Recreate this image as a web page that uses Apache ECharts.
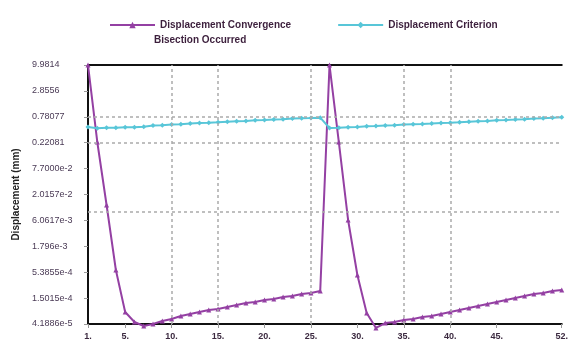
<!DOCTYPE html>
<html><head><meta charset="utf-8">
<script src="https://cdn.jsdelivr.net/npm/echarts@6/dist/echarts.min.js"></script>
<style>html,body{margin:0;padding:0;background:#fff}#c{width:571px;height:349px}</style>
</head><body><div id="c"></div>
<script>
const iterations = [1,2,3,4,5,6,7,8,9,10,11,12,13,14,15,16,17,18,19,20,21,22,23,24,25,26,27,28,29,30,31,32,33,34,35,36,37,38,39,40,41,42,43,44,45,46,47,48,49,50,51,52];
const convergence = [12.4,0.2936,0.01369,5.79e-4,7.50e-5,4.61e-5,3.80e-5,4.19e-5,4.84e-5,5.34e-5,
  6.18e-5,6.81e-5,7.50e-5,8.27e-5,8.69e-5,9.57e-5,1.055e-4,1.163e-4,1.221e-4,1.346e-4,
  1.413e-4,1.557e-4,1.635e-4,1.802e-4,1.892e-4,2.085e-4,
  12.4,0.2936,6.60e-3,4.54e-4,
  7.15e-5,3.45e-5,4.39e-5,4.61e-5,5.09e-5,5.34e-5,5.88e-5,6.18e-5,6.81e-5,7.50e-5,
  8.27e-5,9.12e-5,1.005e-4,1.108e-4,1.221e-4,1.346e-4,1.483e-4,1.635e-4,1.802e-4,1.892e-4,2.085e-4,2.189e-4];
const criterion = [0.610,0.573,0.589,0.589,0.601,0.601,0.619,0.652,0.665,0.685,0.698,0.719,0.741,0.752,0.767,0.790,0.806,0.817,0.843,0.857,0.873,0.890,0.916,0.934,0.945,0.959,
  0.581,0.589,0.601,0.610,0.633,0.640,0.652,0.665,0.685,0.698,0.706,0.719,0.741,0.752,0.767,0.790,0.806,0.817,0.843,0.857,0.873,0.890,0.916,0.934,0.959,0.973];
// y tick labels, bottom to top
const yTickLabels = ["4.1886e-5","1.5015e-4","5.3855e-4","1.796e-3","6.0617e-3","2.0157e-2","7.7000e-2","0.22081","0.78077","2.8556","9.9814"];
const xTickValues = [1,5,10,15,20,25,30,35,40,45,52];
const xGridValues = [10,15,25,35,40];
const yGridSteps = [0,-1,-4,-7];
const seriesNames = ["Displacement Convergence","Displacement Criterion"];
const extraLegendLine = "Bisection Occurred";

const LOG_BASE = 3.526;
const Y_MIN = Math.pow(LOG_BASE,-8);
const Y_MAX = Math.pow(LOG_BASE,2)*0.9999;
const PURPLE = '#9440a3', CYAN = '#58c6d8';
const FONT = 'Liberation Sans, Arial, sans-serif';

const chart = echarts.init(document.getElementById('c'), null, {renderer:'canvas'});
const gridLines = xGridValues.map(v=>({xAxis:v})).concat(yGridSteps.map(k=>({yAxis:Math.pow(LOG_BASE,k)})));
chart.setOption({
  animation:false,
  textStyle:{fontFamily:FONT},
  grid:{left:88,right:9,top:65,bottom:25},
  legend:{
    top:15,left:104,itemWidth:45,itemHeight:8,itemGap:46,
    data:seriesNames,
    textStyle:{fontSize:10,fontWeight:'bold',color:'#3c1f3c'}
  },
  graphic:[{type:'text',left:154,top:35,style:{text:extraLegendLine,font:'bold 10px '+FONT,fill:'#3c1f3c'}}],
  xAxis:[{
    type:'value',min:1,max:52,
    axisLine:{show:true,onZero:false,lineStyle:{color:'#111',width:2}},
    axisTick:{show:true,customValues:xTickValues,length:4,lineStyle:{color:'#999'}},
    axisLabel:{customValues:xTickValues,formatter:v=>v+'.',fontSize:9,fontWeight:'bold',color:'#3c2a40',margin:8},
    splitLine:{show:false}
  },{
    type:'value',min:1,max:52,position:'top',
    axisLine:{show:true,onZero:false,lineStyle:{color:'#111',width:2}},
    axisTick:{show:false},axisLabel:{show:false},splitLine:{show:false}
  }],
  yAxis:{
    type:'log',logBase:LOG_BASE,min:Y_MIN,max:Y_MAX,splitNumber:10,
    name:'Displacement (mm)',nameLocation:'middle',nameGap:56,nameRotate:90,
    nameTextStyle:{fontSize:10,fontWeight:'bold',color:'#222'},
    axisLine:{show:true,lineStyle:{color:'#111',width:2}},
    axisTick:{show:true,length:4,lineStyle:{color:'#999'}},
    axisLabel:{fontSize:9,color:'#4a3a55',margin:56,align:'left',formatter:v=>{const k=Math.round(Math.log(v)/Math.log(LOG_BASE));return yTickLabels[k+8]||'';}},
    splitLine:{show:false}
  },
  series:[
    {type:'line',name:'grid',data:[],z:1,silent:true,
     markLine:{silent:true,symbol:['none','none'],label:{show:false},
       lineStyle:{type:[3,3],color:'#aaa',width:1.5},data:gridLines}},
    {type:'line',name:seriesNames[0],data:iterations.map((x,i)=>[x,convergence[i]]),
     symbol:'triangle',symbolSize:5,clip:false,
     lineStyle:{color:PURPLE,width:2},itemStyle:{color:PURPLE}},
    {type:'line',name:seriesNames[1],data:iterations.map((x,i)=>[x,criterion[i]]),
     symbol:'diamond',symbolSize:5,clip:false,
     lineStyle:{color:CYAN,width:2},itemStyle:{color:CYAN}}
  ]
});
</script></body></html>
